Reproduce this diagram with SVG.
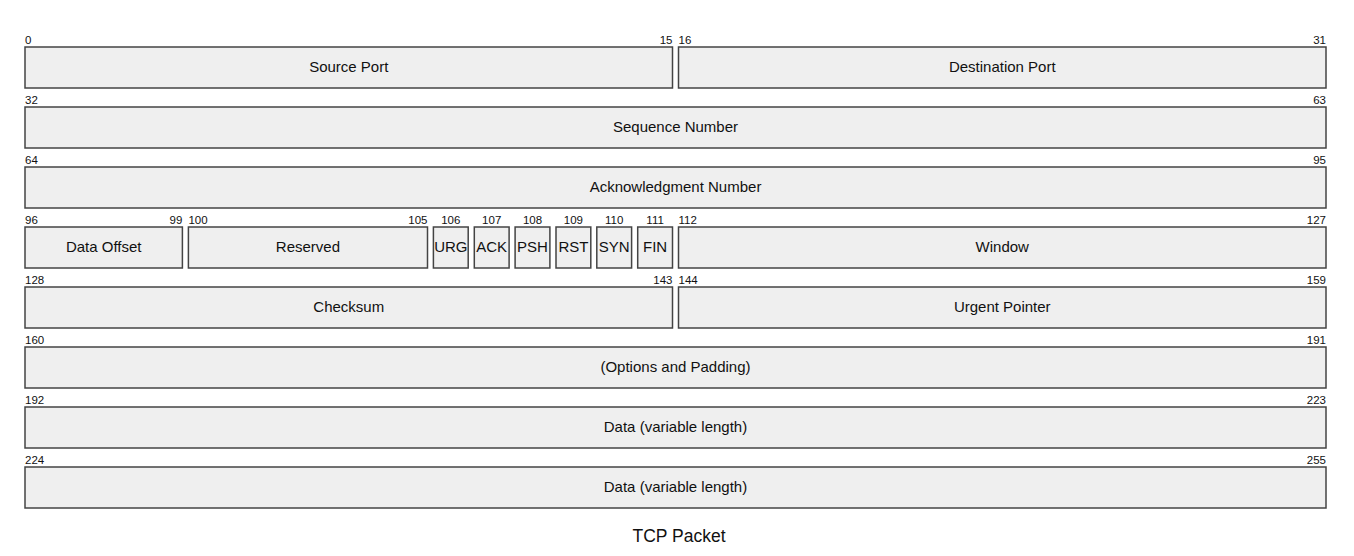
<svg xmlns="http://www.w3.org/2000/svg" width="1354" height="556" viewBox="0 0 1354 556">
<style>
.f{fill:#efefef;stroke:#444;stroke-width:1.5}
.t{font-family:"Liberation Sans",Arial,sans-serif;font-size:15px;fill:#111;text-anchor:middle}
.n{font-family:"Liberation Sans",Arial,sans-serif;font-size:11.5px;fill:#111}
.s{text-anchor:start}.e{text-anchor:end}.m{text-anchor:middle}
</style>
<rect width="1354" height="556" fill="#fff"/>
<g id="source-port"><rect class="f" x="25" y="47" width="647.5" height="41"/><text class="n s" x="25" y="43.5">0</text><text class="n e" x="672.5" y="43.5">15</text><text class="t" x="348.75" y="72">Source Port</text></g>
<g id="destination-port"><rect class="f" x="678.5" y="47" width="647.5" height="41"/><text class="n s" x="678.5" y="43.5">16</text><text class="n e" x="1326" y="43.5">31</text><text class="t" x="1002.25" y="72">Destination Port</text></g>
<g id="sequence-number"><rect class="f" x="25" y="107" width="1301" height="41"/><text class="n s" x="25" y="103.5">32</text><text class="n e" x="1326" y="103.5">63</text><text class="t" x="675.5" y="132">Sequence Number</text></g>
<g id="ack-number"><rect class="f" x="25" y="167" width="1301" height="41"/><text class="n s" x="25" y="163.5">64</text><text class="n e" x="1326" y="163.5">95</text><text class="t" x="675.5" y="192">Acknowledgment Number</text></g>
<g id="data-offset"><rect class="f" x="25" y="227" width="157.4" height="41"/><text class="n s" x="25" y="223.5">96</text><text class="n e" x="182.4" y="223.5">99</text><text class="t" x="103.7" y="252">Data Offset</text></g>
<g id="reserved"><rect class="f" x="188.4" y="227" width="239.1" height="41"/><text class="n s" x="188.4" y="223.5">100</text><text class="n e" x="427.5" y="223.5">105</text><text class="t" x="307.9" y="252">Reserved</text></g>
<g id="urg"><rect class="f" x="433.4" y="227" width="34.8" height="41"/><text class="n m" x="450.8" y="223.5">106</text><text class="t" x="450.8" y="252">URG</text></g>
<g id="ack"><rect class="f" x="474.3" y="227" width="34.8" height="41"/><text class="n m" x="491.7" y="223.5">107</text><text class="t" x="491.7" y="252">ACK</text></g>
<g id="psh"><rect class="f" x="515.1" y="227" width="34.8" height="41"/><text class="n m" x="532.5" y="223.5">108</text><text class="t" x="532.5" y="252">PSH</text></g>
<g id="rst"><rect class="f" x="556" y="227" width="34.8" height="41"/><text class="n m" x="573.4" y="223.5">109</text><text class="t" x="573.4" y="252">RST</text></g>
<g id="syn"><rect class="f" x="596.8" y="227" width="34.8" height="41"/><text class="n m" x="614.2" y="223.5">110</text><text class="t" x="614.2" y="252">SYN</text></g>
<g id="fin"><rect class="f" x="637.7" y="227" width="34.8" height="41"/><text class="n m" x="655.1" y="223.5">111</text><text class="t" x="655.1" y="252">FIN</text></g>
<g id="window"><rect class="f" x="678.5" y="227" width="647.5" height="41"/><text class="n s" x="678.5" y="223.5">112</text><text class="n e" x="1326" y="223.5">127</text><text class="t" x="1002.25" y="252">Window</text></g>
<g id="checksum"><rect class="f" x="25" y="287" width="647.5" height="41"/><text class="n s" x="25" y="283.5">128</text><text class="n e" x="672.5" y="283.5">143</text><text class="t" x="348.75" y="312">Checksum</text></g>
<g id="urgent-pointer"><rect class="f" x="678.5" y="287" width="647.5" height="41"/><text class="n s" x="678.5" y="283.5">144</text><text class="n e" x="1326" y="283.5">159</text><text class="t" x="1002.25" y="312">Urgent Pointer</text></g>
<g id="options"><rect class="f" x="25" y="347" width="1301" height="41"/><text class="n s" x="25" y="343.5">160</text><text class="n e" x="1326" y="343.5">191</text><text class="t" x="675.5" y="372">(Options and Padding)</text></g>
<g id="data-1"><rect class="f" x="25" y="407" width="1301" height="41"/><text class="n s" x="25" y="403.5">192</text><text class="n e" x="1326" y="403.5">223</text><text class="t" x="675.5" y="432">Data (variable length)</text></g>
<g id="data-2"><rect class="f" x="25" y="467" width="1301" height="41"/><text class="n s" x="25" y="463.5">224</text><text class="n e" x="1326" y="463.5">255</text><text class="t" x="675.5" y="492">Data (variable length)</text></g>
<g id="connectors"></g>
<text class="t" x="679" y="542" style="font-size:17.5px">TCP Packet</text>
</svg>
